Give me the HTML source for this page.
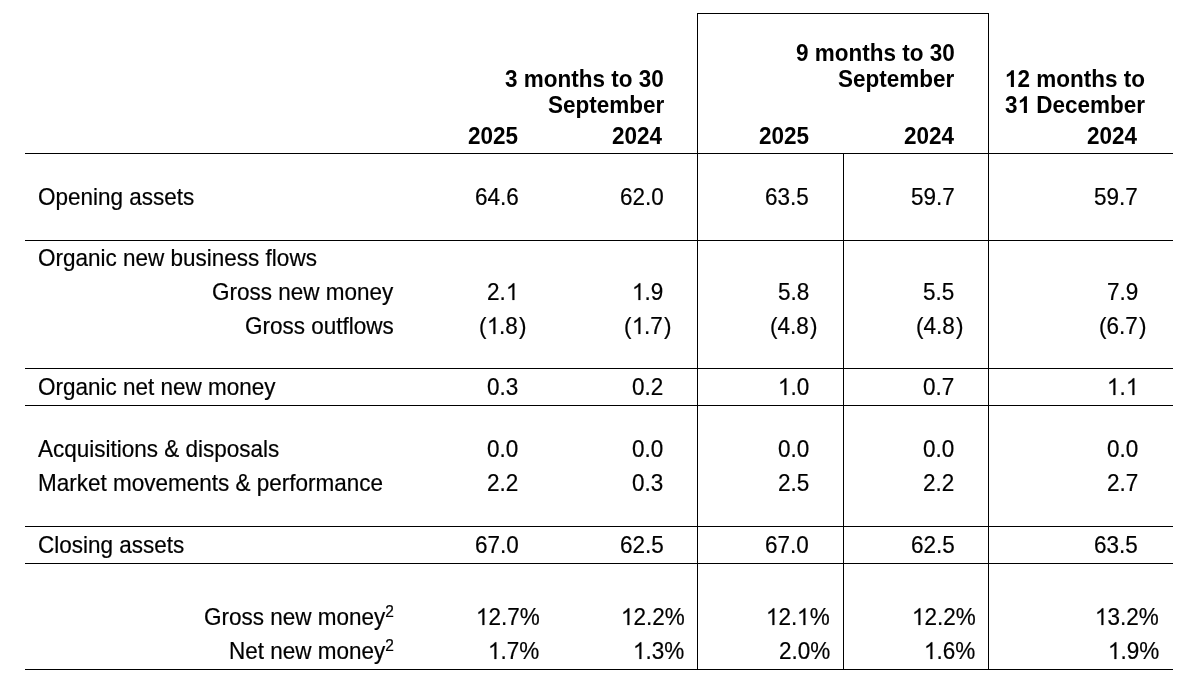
<!DOCTYPE html>
<html><head><meta charset="utf-8"><title>Assets under management</title>
<style>
html,body{margin:0;padding:0;background:#fff}
body{width:1193px;height:681px;position:relative;overflow:hidden;font-family:"Liberation Sans",sans-serif;color:#000}
.t{position:absolute;white-space:nowrap;font-size:22.5px;line-height:30px;will-change:transform;transform:scale(1,1.04);transform-origin:0 22px;-webkit-text-stroke:0.2px #000}
.b{font-weight:bold;-webkit-text-stroke:0}
.h{position:absolute;left:100%;top:0}
sup{font-size:15.5px;line-height:0;vertical-align:8px}
.l{position:absolute;background:#000}
.z{font-size:0;line-height:0;color:transparent}
.o{display:inline-block;width:0.55615em;height:0.8em;vertical-align:0;overflow:visible}
</style></head><body>
<svg width="0" height="0" style="position:absolute"><defs><symbol id="g1r" viewBox="0 -1638.4 1139 1638.4" overflow="visible"><path transform="scale(1,-1)" d="M763,0 L583,0 L583,1187 C535,1141 472,1095 394,1049 C316,1003 259,973 223,959 L223,1133 C322,1179 409,1235 484,1302 C559,1369 612,1427 643,1466 L763,1466 Z" fill="#000" stroke="#000" stroke-width="18.2"/></symbol><symbol id="g1b" viewBox="0 -1638.4 1139 1638.4" overflow="visible"><path transform="scale(1,-1)" d="M813,0 L533,0 L533,1080 C470,1020 380,960 250,905 L164,870 L164,1095 C300,1150 420,1240 510,1350 C550,1400 580,1440 600,1466 L813,1466 Z" fill="#000"/></symbol></defs></svg>
<div class="l" style="left:25px;top:153px;width:1148px;height:1px"></div>
<div class="l" style="left:25px;top:240px;width:1148px;height:1px"></div>
<div class="l" style="left:25px;top:368px;width:1148px;height:1px"></div>
<div class="l" style="left:25px;top:405px;width:1148px;height:1px"></div>
<div class="l" style="left:25px;top:526px;width:1148px;height:1px"></div>
<div class="l" style="left:25px;top:563px;width:1148px;height:1px"></div>
<div class="l" style="left:25px;top:669px;width:1148px;height:1px"></div>
<div class="l" style="left:697px;top:13px;width:292px;height:1px"></div>
<div class="l" style="left:697px;top:13px;width:1px;height:657px"></div>
<div class="l" style="left:988px;top:13px;width:1px;height:657px"></div>
<div class="l" style="left:843px;top:153px;width:1px;height:517px"></div>
<div class="t b" style="top:65px;right:529.0px;text-align:right;">3 months to 30</div>
<div class="t b" style="top:91px;right:529.0px;text-align:right;">September</div>
<div class="t b" style="top:39px;right:238.4px;text-align:right;">9 months to 30</div>
<div class="t b" style="top:65px;right:238.4px;text-align:right;">September</div>
<div class="t b" style="top:65px;left:1005.0px;"><span class="z">1</span><svg class="o" aria-hidden="true"><use href="#g1b"/></svg>2 months to</div>
<div class="t b" style="top:91px;left:1005.0px;">3<span class="z">1</span><svg class="o" aria-hidden="true"><use href="#g1b"/></svg> December</div>
<div class="t b" style="top:122px;right:675.1px;text-align:right;">2025</div>
<div class="t b" style="top:122px;right:530.5px;text-align:right;">2024</div>
<div class="t b" style="top:122px;right:383.5px;text-align:right;">2025</div>
<div class="t b" style="top:122px;right:239.1px;text-align:right;">2024</div>
<div class="t b" style="top:122px;right:55.7px;text-align:right;">2024</div>
<div class="t" style="top:183px;left:37.6px;">Opening assets</div>
<div class="t" style="top:183px;right:674.4px;text-align:right;">64.6</div>
<div class="t" style="top:183px;right:529.4px;text-align:right;">62.0</div>
<div class="t" style="top:183px;right:383.8px;text-align:right;">63.5</div>
<div class="t" style="top:183px;right:238.4px;text-align:right;">59.7</div>
<div class="t" style="top:183px;right:55.1px;text-align:right;">59.7</div>
<div class="t" style="top:244px;left:37.6px;">Organic new business flows</div>
<div class="t" style="top:278px;right:799.6px;text-align:right;">Gross new money</div>
<div class="t" style="top:278px;right:674.4px;text-align:right;">2.<span class="z">1</span><svg class="o" aria-hidden="true"><use href="#g1r"/></svg></div>
<div class="t" style="top:278px;right:529.4px;text-align:right;"><span class="z">1</span><svg class="o" aria-hidden="true"><use href="#g1r"/></svg>.9</div>
<div class="t" style="top:278px;right:383.8px;text-align:right;">5.8</div>
<div class="t" style="top:278px;right:238.4px;text-align:right;">5.5</div>
<div class="t" style="top:278px;right:55.1px;text-align:right;">7.9</div>
<div class="t" style="top:312px;right:799.6px;text-align:right;">Gross outflows</div>
<div class="t" style="top:312px;right:675.4px;text-align:right;">(<span class="z">1</span><svg class="o" aria-hidden="true"><use href="#g1r"/></svg>.8<span class="h" style="margin-left:1.2px">)</span></div>
<div class="t" style="top:312px;right:530.4px;text-align:right;">(<span class="z">1</span><svg class="o" aria-hidden="true"><use href="#g1r"/></svg>.7<span class="h" style="margin-left:1.2px">)</span></div>
<div class="t" style="top:312px;right:383.8px;text-align:right;">(4.8<span class="h" style="margin-left:1.2px">)</span></div>
<div class="t" style="top:312px;right:238.4px;text-align:right;">(4.8<span class="h" style="margin-left:1.2px">)</span></div>
<div class="t" style="top:312px;right:55.1px;text-align:right;">(6.7<span class="h" style="margin-left:1.2px">)</span></div>
<div class="t" style="top:373px;left:37.6px;">Organic net new money</div>
<div class="t" style="top:373px;right:674.4px;text-align:right;">0.3</div>
<div class="t" style="top:373px;right:529.4px;text-align:right;">0.2</div>
<div class="t" style="top:373px;right:383.8px;text-align:right;"><span class="z">1</span><svg class="o" aria-hidden="true"><use href="#g1r"/></svg>.0</div>
<div class="t" style="top:373px;right:238.4px;text-align:right;">0.7</div>
<div class="t" style="top:373px;right:55.1px;text-align:right;"><span class="z">1</span><svg class="o" aria-hidden="true"><use href="#g1r"/></svg>.<span class="z">1</span><svg class="o" aria-hidden="true"><use href="#g1r"/></svg></div>
<div class="t" style="top:435px;left:37.6px;">Acquisitions &amp; disposals</div>
<div class="t" style="top:435px;right:674.4px;text-align:right;">0.0</div>
<div class="t" style="top:435px;right:529.4px;text-align:right;">0.0</div>
<div class="t" style="top:435px;right:383.8px;text-align:right;">0.0</div>
<div class="t" style="top:435px;right:238.4px;text-align:right;">0.0</div>
<div class="t" style="top:435px;right:55.1px;text-align:right;">0.0</div>
<div class="t" style="top:469px;left:37.6px;">Market movements &amp; performance</div>
<div class="t" style="top:469px;right:674.4px;text-align:right;">2.2</div>
<div class="t" style="top:469px;right:529.4px;text-align:right;">0.3</div>
<div class="t" style="top:469px;right:383.8px;text-align:right;">2.5</div>
<div class="t" style="top:469px;right:238.4px;text-align:right;">2.2</div>
<div class="t" style="top:469px;right:55.1px;text-align:right;">2.7</div>
<div class="t" style="top:531px;left:37.6px;">Closing assets</div>
<div class="t" style="top:531px;right:674.4px;text-align:right;">67.0</div>
<div class="t" style="top:531px;right:529.4px;text-align:right;">62.5</div>
<div class="t" style="top:531px;right:383.8px;text-align:right;">67.0</div>
<div class="t" style="top:531px;right:238.4px;text-align:right;">62.5</div>
<div class="t" style="top:531px;right:55.1px;text-align:right;">63.5</div>
<div class="t" style="top:603px;right:799.1px;text-align:right;">Gross new money<sup>2</sup></div>
<div class="t" style="top:603px;right:673.4px;text-align:right;"><span class="z">1</span><svg class="o" aria-hidden="true"><use href="#g1r"/></svg>2.7<span class="h">%</span></div>
<div class="t" style="top:603px;right:528.4px;text-align:right;"><span class="z">1</span><svg class="o" aria-hidden="true"><use href="#g1r"/></svg>2.2<span class="h">%</span></div>
<div class="t" style="top:603px;right:382.8px;text-align:right;"><span class="z">1</span><svg class="o" aria-hidden="true"><use href="#g1r"/></svg>2.<span class="z">1</span><svg class="o" aria-hidden="true"><use href="#g1r"/></svg><span class="h">%</span></div>
<div class="t" style="top:603px;right:237.4px;text-align:right;"><span class="z">1</span><svg class="o" aria-hidden="true"><use href="#g1r"/></svg>2.2<span class="h">%</span></div>
<div class="t" style="top:603px;right:54.1px;text-align:right;"><span class="z">1</span><svg class="o" aria-hidden="true"><use href="#g1r"/></svg>3.2<span class="h">%</span></div>
<div class="t" style="top:637px;right:799.1px;text-align:right;">Net new money<sup>2</sup></div>
<div class="t" style="top:637px;right:673.4px;text-align:right;"><span class="z">1</span><svg class="o" aria-hidden="true"><use href="#g1r"/></svg>.7<span class="h">%</span></div>
<div class="t" style="top:637px;right:528.4px;text-align:right;"><span class="z">1</span><svg class="o" aria-hidden="true"><use href="#g1r"/></svg>.3<span class="h">%</span></div>
<div class="t" style="top:637px;right:382.8px;text-align:right;">2.0<span class="h">%</span></div>
<div class="t" style="top:637px;right:237.4px;text-align:right;"><span class="z">1</span><svg class="o" aria-hidden="true"><use href="#g1r"/></svg>.6<span class="h">%</span></div>
<div class="t" style="top:637px;right:54.1px;text-align:right;"><span class="z">1</span><svg class="o" aria-hidden="true"><use href="#g1r"/></svg>.9<span class="h">%</span></div>
</body></html>
